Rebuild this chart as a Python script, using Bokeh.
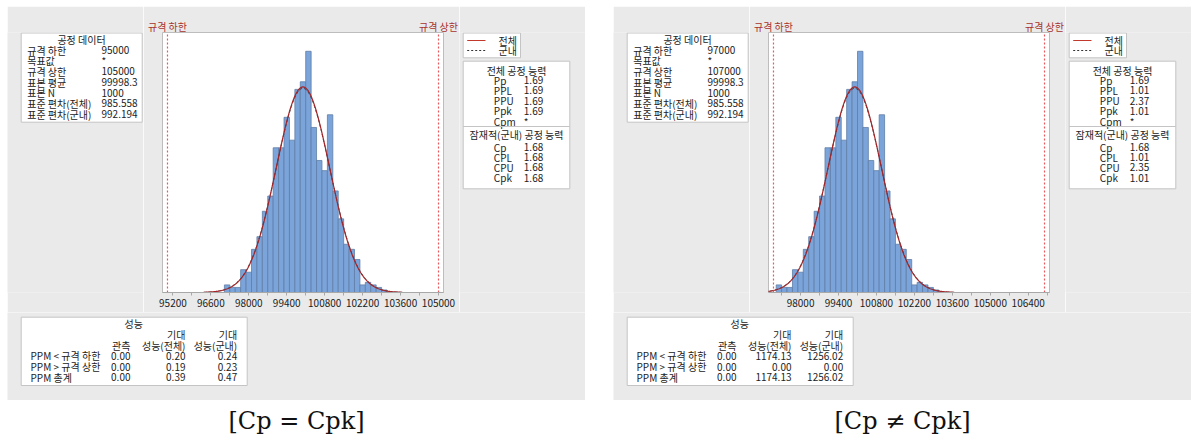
import numpy as np
from bokeh.plotting import figure
from bokeh.layouts import row, column
from bokeh.models import (Range1d, FixedTicker, LinearAxis, Spacer,
                          BasicTickFormatter)
from bokeh.core.properties import value
from bokeh.embed import file_html
from bokeh.resources import INLINE

# ---- sample (same 1000 measurements in both panels) ----
bin_start = 97100
bin_width = 200
counts = [3, 2, 2, 9, 8, 17, 22, 32, 38, 57, 57, 69, 60, 80, 83,
          95, 65, 52, 48, 70, 40, 29, 19, 17, 13, 3, 4, 3, 2, 1]
sample_mean = 99998.3
sample_n = 1000
sd_overall = 985.558
sd_within = 992.194

# ---- spec limits and axis ticks per panel ----
specs_a = (95000, 105000)
specs_b = (97000, 107000)
ticks_a = [95200, 96600, 98000, 99400, 100800, 102200, 103600, 105000]
ticks_b = [98000, 99400, 100800, 102200, 103600, 105000, 106400]

# ---- text tables ----
process_title = "공정 데이터"
process_labels = ["규격 하한", "목표값", "규격 상한", "표본 평균", "표본 N",
                  "표준 편차(전체)", "표준 편차(군내)"]
process_values_a = ["95000", "*", "105000", "99998.3", "1000", "985.558", "992.194"]
process_values_b = ["97000", "*", "107000", "99998.3", "1000", "985.558", "992.194"]

legend_labels = ["전체", "군내"]

overall_title = "전체 공정 능력"
overall_names = ["Pp", "PPL", "PPU", "Ppk", "Cpm"]
overall_a = ["1.69", "1.69", "1.69", "1.69", "*"]
overall_b = ["1.69", "1.01", "2.37", "1.01", "*"]
within_title = "잠재적(군내) 공정 능력"
within_names = ["Cp", "CPL", "CPU", "Cpk"]
within_a = ["1.68", "1.68", "1.68", "1.68"]
within_b = ["1.68", "1.01", "2.35", "1.01"]

perf_title = "성능"
perf_head_top = ["기대", "기대"]
perf_head = ["관측", "성능(전체)", "성능(군내)"]
ppm_rows = ["PPM < 규격 하한", "PPM > 규격 상한", "PPM 총계"]
ppm_observed_a = ["0.00", "0.00", "0.00"]
ppm_overall_a = ["0.20", "0.19", "0.39"]
ppm_within_a = ["0.24", "0.23", "0.47"]
ppm_observed_b = ["0.00", "0.00", "0.00"]
ppm_overall_b = ["1174.13", "0.00", "1174.13"]
ppm_within_b = ["1256.02", "0.00", "1256.02"]

captions = ["[Cp = Cpk]", "[Cp ≠ Cpk]"]

# ---- styling ----
GRAY = "#EAEAEA"
BOX_LINE = "#C4C4C4"
TEXT = "#222222"
RED_LABEL = "#A8322D"
SPEC = "#E8585C"
BAR = "#7BA4DB"
BAR_EDGE = "#5F7EA6"
CURVE = "#A3262A"
WITHIN = "#3A3A3A"
FONT = "Noto Sans CJK KR"
FS = "10px"

PANEL_W = 578
TOP_H = 306
BOTTOM_H = 88
CAP_H = 35
LEFT_W = 136
HIST_W = 316
RIGHT_W = PANEL_W - LEFT_W - HIST_W
# frame borders of the top row (shared by the histogram and its side columns)
B_TOP = 26
B_BOTTOM = 20
Y_MAX = 102.4


def sheet(w, h, fill=GRAY, top=0, bottom=0):
    p = figure(width=w, height=h, x_range=Range1d(0, w),
               y_range=Range1d(h - bottom, top),
               output_backend="svg", toolbar_location=None,
               min_border_left=0, min_border_right=0,
               min_border_top=top, min_border_bottom=bottom,
               x_axis_location=None, y_axis_location=None)
    p.grid.visible = False
    p.outline_line_color = None
    p.background_fill_color = fill
    p.border_fill_color = fill
    return p


def txt(p, xs, ys, texts, align="left", size=FS, color=TEXT, font=FONT):
    p.text(x=xs, y=ys, text=texts, text_align=align, text_baseline="middle",
           text_font=value(font), text_font_size=size, text_color=color)


def box(p, l, r, t, b):
    p.quad(left=[l], right=[r], top=[t], bottom=[b], fill_color="white",
           line_color=BOX_LINE, line_width=1)


def process_box(values):
    p = sheet(LEFT_W, TOP_H, top=B_TOP, bottom=B_BOTTOM)
    box(p, 13.7, 134.7, 26.5, 115.7)
    txt(p, [74], [32.8], [process_title], align="center")
    ys = [43.6 + 10.65 * i for i in range(len(process_labels))]
    txt(p, [19.7] * len(ys), ys, process_labels)
    txt(p, [94] * len(ys), ys, values)
    return p


def capability_box(ov, wi):
    p = sheet(RIGHT_W, TOP_H, top=B_TOP, bottom=B_BOTTOM)
    # legend
    box(p, 3.7, 61, 26.5, 51.3)
    p.segment(x0=[7.7], x1=[26], y0=[34], y1=[34], line_color="#C0392B", line_width=1.2)
    p.segment(x0=[7.7], x1=[26], y0=[44], y1=[44], line_color="#333333",
              line_width=1, line_dash="2 2")
    txt(p, [39, 39], [34, 44], legend_labels)
    # capability statistics
    box(p, 3.7, 110.3, 54.7, 182.3)
    txt(p, [57], [64], [overall_title], align="center")
    ys = [73.5 + 10.3 * i for i in range(len(overall_names))]
    txt(p, [34.3] * len(ys), ys, overall_names)
    txt(p, [64.3] * len(ys), ys, ov)
    p.segment(x0=[3.7], x1=[110.3], y0=[120], y1=[120], line_color=BOX_LINE, line_width=1)
    txt(p, [57], [127.5], [within_title], align="center")
    ys2 = [140.7 + 10.1 * i for i in range(len(within_names))]
    txt(p, [34.3] * len(ys2), ys2, within_names)
    txt(p, [64.3] * len(ys2), ys2, wi)
    return p


def histogram(specs, ticks):
    lsl, usl = specs
    pad = 184
    p = figure(width=HIST_W, height=TOP_H,
               x_range=Range1d(lsl - pad, usl + pad), y_range=Range1d(0, Y_MAX),
               output_backend="svg", toolbar_location=None, y_axis_location=None,
               min_border_left=19, min_border_right=16, min_border_top=B_TOP,
               min_border_bottom=B_BOTTOM)
    p.grid.visible = False
    p.background_fill_color = "white"
    p.border_fill_color = GRAY
    p.outline_line_color = "#BDBDBD"

    step = ticks[1] - ticks[0]
    minor = [t + step / 2 for t in [ticks[0] - step] + ticks]
    ax = p.xaxis[0]
    ax.ticker = FixedTicker(ticks=ticks, minor_ticks=minor)
    ax.formatter = BasicTickFormatter(use_scientific=False)
    ax.axis_line_color = "#A8A8A8"
    ax.major_tick_line_color = "#A8A8A8"
    ax.minor_tick_line_color = "#A8A8A8"
    ax.major_tick_in = 0
    ax.major_tick_out = 3
    ax.minor_tick_in = 0
    ax.minor_tick_out = 3
    ax.major_label_standoff = 3
    ax.major_label_text_font = FONT
    ax.major_label_text_font_size = "10px"
    ax.major_label_text_color = TEXT

    top = LinearAxis(ticker=FixedTicker(ticks=[lsl, usl]),
                     major_label_overrides={lsl: "규격 하한", usl: "규격 상한"},
                     axis_line_color=None, major_tick_line_color=None,
                     minor_tick_line_color=None, major_tick_out=0, major_tick_in=0,
                     major_label_standoff=-1,
                     major_label_text_color=RED_LABEL, major_label_text_font=FONT,
                     major_label_text_font_size="10px")
    p.add_layout(top, "above")

    centers = [bin_start + bin_width * (i + 0.5) for i in range(len(counts))]
    p.vbar(x=centers, width=bin_width, top=counts, bottom=0,
           fill_color=BAR, line_color=BAR_EDGE, line_width=0.8)

    # fitted normal curves: within (dashed) under overall (solid)
    for sd, color, dash, lw in [(sd_within, WITHIN, "3 2", 1.0),
                                (sd_overall, CURVE, "solid", 1.2)]:
        xs = np.linspace(sample_mean - 3.7 * sd, sample_mean + 3.7 * sd, 300)
        ys = sample_n * bin_width * np.exp(-0.5 * ((xs - sample_mean) / sd) ** 2) / (sd * np.sqrt(2 * np.pi))
        p.line(xs, ys, line_color=color, line_dash=dash, line_width=lw)

    # specification limits, one dotted line each
    for loc in specs:
        p.line(x=[loc, loc], y=[0, Y_MAX], line_color=SPEC, line_dash="2 2",
               line_width=1.2)
    return p


def performance_box(obs, ov, wi):
    p = sheet(PANEL_W, BOTTOM_H)
    box(p, 13.7, 239.7, 4.7, 73)
    txt(p, [126.3], [11.3], [perf_title], align="center")
    cols = [123, 178, 229.7]
    txt(p, cols[1:], [22, 22], perf_head_top, align="right")
    txt(p, cols, [32.7] * 3, perf_head, align="right")
    ys = [43.4 + 10.7 * i for i in range(len(ppm_rows))]
    txt(p, [23] * 3, ys, ppm_rows)
    for x, vals in zip(cols, [obs, ov, wi]):
        txt(p, [x] * 3, ys, vals, align="right")
    return p


def caption_fig(label):
    p = sheet(PANEL_W, CAP_H, fill="white")
    txt(p, [PANEL_W / 2], [20], [label], align="center", size="24px",
        color="#111111", font="DejaVu Serif")
    return p


def panel(specs, ticks, pvals, ov, wi, obs, pov, pwi, label):
    top_row = row(process_box(pvals), histogram(specs, ticks), capability_box(ov, wi))
    return column(top_row, performance_box(obs, pov, pwi), caption_fig(label))


panel_a = panel(specs_a, ticks_a, process_values_a, overall_a, within_a,
                ppm_observed_a, ppm_overall_a, ppm_within_a, captions[0])
panel_b = panel(specs_b, ticks_b, process_values_b, overall_b, within_b,
                ppm_observed_b, ppm_overall_b, ppm_within_b, captions[1])

body_h = TOP_H + BOTTOM_H + CAP_H
page = column(
    Spacer(width=1194, height=6),
    row(Spacer(width=7, height=body_h), panel_a,
        Spacer(width=28, height=body_h), panel_b,
        Spacer(width=3, height=body_h)),
)

open("out.html", "w").write(file_html(page, INLINE))
